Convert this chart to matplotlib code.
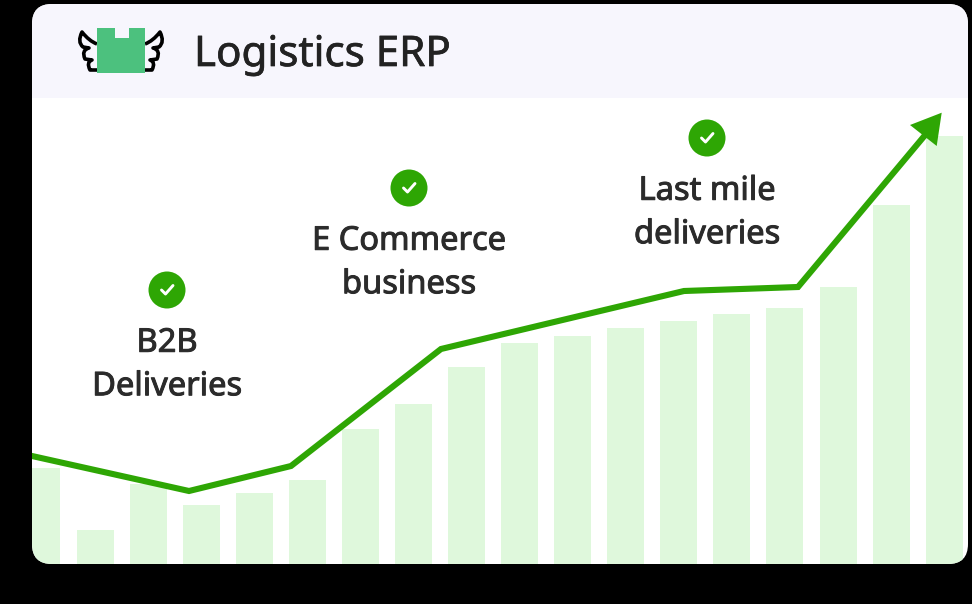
import matplotlib
matplotlib.use("Agg")
import matplotlib.pyplot as plt
import matplotlib.patheffects as pe
from matplotlib.patches import FancyBboxPatch, Rectangle, Polygon, Circle, PathPatch
from matplotlib.path import Path

plt.rcParams['font.family'] = ['Noto Sans', 'Open Sans', 'DejaVu Sans']

# chart values (height above the card bottom)
bar_x = [41, 95.5, 148.5, 201.5, 254.5, 307.5, 360.5, 413.5, 466.5, 519.5,
         572.5, 625.5, 678.5, 731.5, 784.5, 838.5, 891.5, 944.5]
bar_h = [96, 34, 80, 59, 71, 84, 135, 160, 197, 221, 228, 236, 243, 250, 256, 277, 359, 428]
line_x = [32, 189, 291, 441, 684, 798, 926]
line_y = [108, 73, 98, 215, 273, 277, 430]
labels = ["B2B\nDeliveries", "E Commerce\nbusiness", "Last mile\ndeliveries"]
label_x = [167, 409, 707]
label_y = [199, 301, 351]
check_y = [274, 376, 426]
title = "Logistics ERP"

fig = plt.figure(figsize=(9.72, 6.04), dpi=100, facecolor="black")
ax = fig.add_axes([0, 0, 1, 1])
ax.set_xlim(0, 972)
ax.set_ylim(-40, 564)
ax.axis("off")

# card
card = FancyBboxPatch((52, 20), 896, 520, boxstyle="round,pad=20,rounding_size=20",
                      fc="white", ec="none", zorder=1)
ax.add_patch(card)
header = Rectangle((32, 466), 936, 94, fc="#f7f6fd", ec="none", zorder=2)
ax.add_patch(header)
header.set_clip_path(card)

# bars
bars = ax.bar(bar_x, bar_h, width=37, color="#dff8dc", zorder=3)
for b in bars:
    b.set_clip_path(card)

# line + arrow
trend, = ax.plot(line_x, line_y, color="#2ea604", lw=4.4, solid_joinstyle="miter", zorder=4)
trend.set_clip_path(card)
ax.add_patch(Polygon([(941.7, 451.3), (910, 439), (936.7, 418)], fc="#2ea604", ec="none", zorder=5))

# labels with check marks
for t, x, y, cy in zip(labels, label_x, label_y, check_y):
    txt = ax.text(x, y, t, ha="center", va="center", fontsize=23.5,
                  color="#2b2b2b", linespacing=1.42, zorder=6)
    txt.set_path_effects([pe.withStroke(linewidth=0.7, foreground="#2b2b2b")])
    ax.add_patch(Circle((x, cy), 18.5, fc="#2ea604", ec="none", zorder=6))
    ax.plot([x - 5.5, x - 1.5, x + 6], [cy, cy - 4, cy + 4.5], color="white", lw=2.1,
            solid_capstyle="round", zorder=7)

head = ax.text(194, 509, title, ha="left", va="center", fontsize=30.3, color="#222222", zorder=6)
head.set_path_effects([pe.withStroke(linewidth=0.5, foreground="#222222")])

# logo
logo = [(97, 536), (115, 536), (115, 526), (129, 526), (129, 536), (145, 536),
        (145, 491), (97, 491)]
ax.add_patch(Polygon(logo, fc="#4cc17e", ec="none", zorder=6))
wing = [(97, 520), (89, 523), (82, 532),
        (77, 522), (83, 517), (89, 516),
        (81, 514), (85, 505), (92, 504),
        (86, 502), (90, 494), (97, 494)]
codes = [Path.MOVETO, Path.CURVE3, Path.CURVE3,
         Path.CURVE3, Path.CURVE3, Path.LINETO,
         Path.CURVE3, Path.CURVE3, Path.LINETO,
         Path.CURVE3, Path.CURVE3, Path.LINETO]
for mirror in (False, True):
    pts = [(242 - x, y) if mirror else (x, y) for x, y in wing]
    ax.add_patch(PathPatch(Path(pts, codes), fc="none", ec="black", lw=2.6,
                           joinstyle="round", zorder=5))

fig.savefig("out.png", dpi=100, facecolor="black")
